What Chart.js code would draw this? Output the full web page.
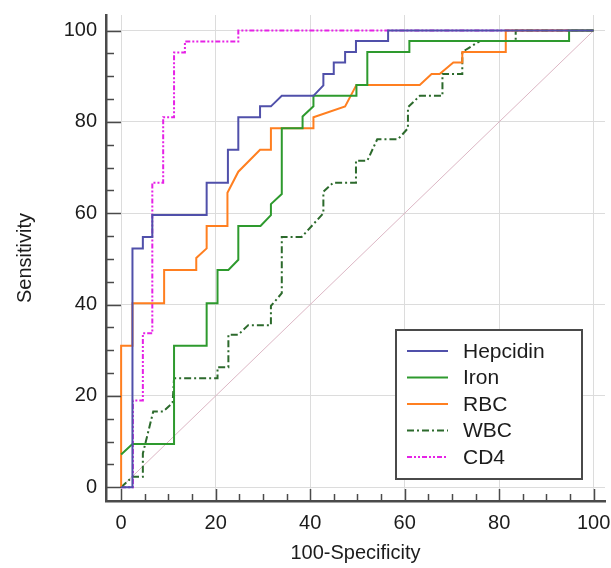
<!DOCTYPE html>
<html lang="en">
  <head>
    <meta charset="UTF-8" />
    <title>ROC curves</title>
    <style>
      html, body { margin: 0; padding: 0; background: #ffffff; }
      #roc { display: block; }
    </style>
  </head>
  <body>
    <canvas id="roc" width="611" height="568"></canvas>

    <script src="https://cdn.jsdelivr.net/npm/chart.js"></script>

    <script>
      // series values: [100-Specificity, Sensitivity]
      const hepcidin = [
        [0, 0], [2.4, 0], [2.4, 52.3], [4.6, 52.3], [4.6, 54.8], [6.6, 54.8], [6.6, 59.6],
        [18.1, 59.6], [18.1, 66.7], [22.6, 66.7], [22.6, 73.9], [24.8, 73.9], [24.8, 81],
        [29.4, 81], [29.4, 83.4], [31.7, 83.4], [34, 85.7], [40.7, 85.7], [42.8, 88],
        [42.8, 90.5], [45, 90.5], [45, 93], [47.4, 93], [47.4, 95.3], [49.7, 95.3],
        [49.7, 97.7], [56.5, 97.7], [56.5, 100], [100, 100]
      ];
      const iron = [
        [0, 7.2], [2.4, 9.5], [11.2, 9.5], [11.2, 31], [18.1, 31], [18.1, 40.3], [20.4, 40.3],
        [20.4, 47.6], [22.7, 47.6], [24.8, 49.8], [24.8, 57.2], [29.5, 57.2], [31.7, 59.6],
        [31.7, 62], [34, 64.2], [34, 78.6], [38.4, 78.6], [38.4, 81.2], [40.7, 83.4],
        [40.7, 85.7], [49.8, 85.7], [49.8, 88.1], [52.1, 88.1], [52.1, 95.3], [61, 95.3],
        [61, 97.7], [94.8, 97.7], [94.8, 100], [100, 100]
      ];
      const rbc = [
        [0, 0], [0, 31], [2.4, 31], [2.4, 40.3], [9.1, 40.3], [9.1, 47.6], [15.9, 47.6],
        [15.9, 50.2], [18.1, 52.3], [18.1, 57.2], [22.5, 57.2], [22.5, 64.5], [24.8, 69.1],
        [29.4, 73.9], [31.7, 73.9], [31.7, 78.6], [40.7, 78.6], [40.7, 81], [47.4, 83.4],
        [49.8, 88.1], [63.2, 88.1], [65.7, 90.5], [67.4, 90.5], [70.3, 93], [72.2, 93],
        [72.2, 95.3], [81.4, 95.3], [81.4, 100], [100, 100]
      ];
      const wbc = [
        [0, 0], [2.4, 2.3], [4.6, 2.3], [4.6, 7.4], [6.8, 16.6], [8.9, 16.6], [10.9, 18.5],
        [11.2, 23.9], [20.4, 23.9], [20.4, 26.3], [22.7, 26.3], [22.7, 33.4], [24.8, 33.4],
        [26.9, 35.5], [31.7, 35.5], [31.7, 39.7], [34, 42.5], [34, 54.8], [38.2, 54.8],
        [42.8, 60], [42.8, 64.7], [44.9, 66.7], [49.7, 66.7], [49.7, 71.5], [52.1, 71.5],
        [54.2, 76.2], [58.6, 76.2], [60.7, 78.6], [60.7, 83.2], [63.2, 85.7], [68, 85.7],
        [68, 90.5], [72.2, 90.5], [72.2, 95.3], [75.9, 97.7], [83.5, 97.7], [83.5, 100],
        [100, 100]
      ];
      const cd4 = [
        [0, 0], [2.5, 0], [2.5, 19], [4.6, 19], [4.6, 33.7], [6.6, 33.7], [6.6, 66.7],
        [8.9, 66.7], [8.9, 81], [11.2, 81], [11.2, 95.2], [13.5, 95.2], [13.5, 97.6],
        [24.8, 97.6], [24.8, 100], [100, 100]
      ];
      const chance = [[0, 0], [100, 100]];

      const seriesNames = ["Hepcidin", "Iron", "RBC", "WBC", "CD4"];
      const majorTicks = [0, 20, 40, 60, 80, 100];
      const minorStep = 5;

      const toPoints = (arr) => arr.map(([x, y]) => ({ x: x, y: y }));

      const allTicks = [];
      for (let v = 0; v <= 100; v += minorStep) allTicks.push(v);

      const axisColor = "#4a4a4a";
      const textColor = "#1c1c1c";

      Chart.defaults.font.family = "'Liberation Sans', Arial, sans-serif";
      Chart.defaults.color = textColor;

      // inward major/minor ticks
      const innerTicks = {
        id: "innerTicks",
        afterDatasetsDraw(chart) {
          const { ctx, chartArea, scales } = chart;
          ctx.save();
          ctx.strokeStyle = axisColor;
          ctx.lineWidth = 1.5;
          allTicks.forEach((v) => {
            const major = majorTicks.includes(v);
            const px = Math.round(scales.x.getPixelForValue(v)) + 0.5;
            ctx.beginPath();
            ctx.moveTo(px, chartArea.bottom);
            ctx.lineTo(px, chartArea.bottom - (major ? 12 : 7));
            ctx.stroke();
            const py = Math.round(scales.y.getPixelForValue(v)) + 0.5;
            ctx.beginPath();
            ctx.moveTo(chartArea.left, py);
            ctx.lineTo(chartArea.left + (major ? 15 : 8), py);
            ctx.stroke();
          });
          ctx.restore();
        },
      };

      // boxed legend inside the plot
      const boxLegend = {
        id: "boxLegend",
        afterDraw(chart) {
          const { ctx } = chart;
          const left = 396, top = 330, w = 186, h = 149;
          ctx.save();
          ctx.fillStyle = "#ffffff";
          ctx.fillRect(left, top, w, h);
          ctx.strokeStyle = axisColor;
          ctx.lineWidth = 2;
          ctx.strokeRect(left, top, w, h);
          ctx.font = "21px 'Liberation Sans', Arial, sans-serif";
          ctx.textBaseline = "middle";
          ctx.fillStyle = textColor;
          seriesNames.forEach((name, i) => {
            const ds = chart.data.datasets[i];
            const y = top + 21 + i * 26.5;
            ctx.beginPath();
            ctx.setLineDash(ds.borderDash || []);
            ctx.strokeStyle = ds.borderColor;
            ctx.lineWidth = 2;
            ctx.moveTo(407, y);
            ctx.lineTo(448, y);
            ctx.stroke();
            ctx.setLineDash([]);
            ctx.fillText(name, 463, y + 1);
          });
          ctx.restore();
        },
      };

      const line = (label, arr, color, dash) => ({
        label: label,
        data: toPoints(arr),
        borderColor: color,
        backgroundColor: color,
        borderWidth: 2,
        borderDash: dash,
        pointRadius: 0,
        tension: 0,
        fill: false,
      });

      new Chart(document.getElementById("roc"), {
        type: "line",
        data: {
          datasets: [
            line(seriesNames[0], hepcidin, "#5050aa", []),
            line(seriesNames[1], iron, "#2e9a2e", []),
            line(seriesNames[2], rbc, "#ff7f20", []),
            line(seriesNames[3], wbc, "#2c6a2c", [7, 3, 2, 3]),
            line(seriesNames[4], cd4, "#e622e6", [5, 2, 2, 2, 2, 2]),
            {
              label: "chance",
              data: toPoints(chance),
              borderColor: "#dcb6c4",
              borderWidth: 1,
              pointRadius: 0,
              fill: false,
            },
          ],
        },
        options: {
          responsive: false,
          animation: false,
          layout: { padding: { top: 15, right: 6, left: 0, bottom: 0 } },
          plugins: {
            legend: { display: false },
            tooltip: { enabled: false },
          },
          scales: {
            x: {
              type: "linear",
              min: -3.2,
              max: 102.4,
              afterFit: (s) => {
                s.height = 67;
                s.paddingLeft = 0;
                s.paddingRight = 0;
              },
              afterBuildTicks: (s) => { s.ticks = allTicks.map((v) => ({ value: v })); },
              grid: {
                drawTicks: false,
                color: (c) => (c.tick && c.tick.value % 20 === 0 ? "#dcdcdc" : "rgba(0,0,0,0)"),
              },
              border: { color: axisColor, width: 2.5 },
              ticks: {
                autoSkip: false,
                maxRotation: 0,
                padding: 10,
                font: { size: 20 },
                callback: (v) => (majorTicks.includes(v) ? v : ""),
              },
              title: {
                display: true,
                text: "100-Specificity",
                font: { size: 20 },
                padding: { top: 0, bottom: 3 },
              },
            },
            y: {
              type: "linear",
              min: -3.0,
              max: 103.4,
              afterFit: (s) => {
                s.width = 106;
                s.paddingTop = 0;
                s.paddingBottom = 0;
              },
              afterBuildTicks: (s) => { s.ticks = allTicks.map((v) => ({ value: v })); },
              grid: {
                drawTicks: false,
                color: (c) => (c.tick && c.tick.value % 20 === 0 ? "#dcdcdc" : "rgba(0,0,0,0)"),
              },
              border: { color: axisColor, width: 2.5 },
              ticks: {
                autoSkip: false,
                padding: 9,
                font: { size: 20 },
                callback: (v) => (majorTicks.includes(v) ? v : ""),
              },
              title: {
                display: true,
                text: "Sensitivity",
                font: { size: 20 },
                padding: { top: 13, bottom: 0 },
              },
            },
          },
        },
        plugins: [innerTicks, boxLegend],
      });
    </script>
  </body>
</html>
